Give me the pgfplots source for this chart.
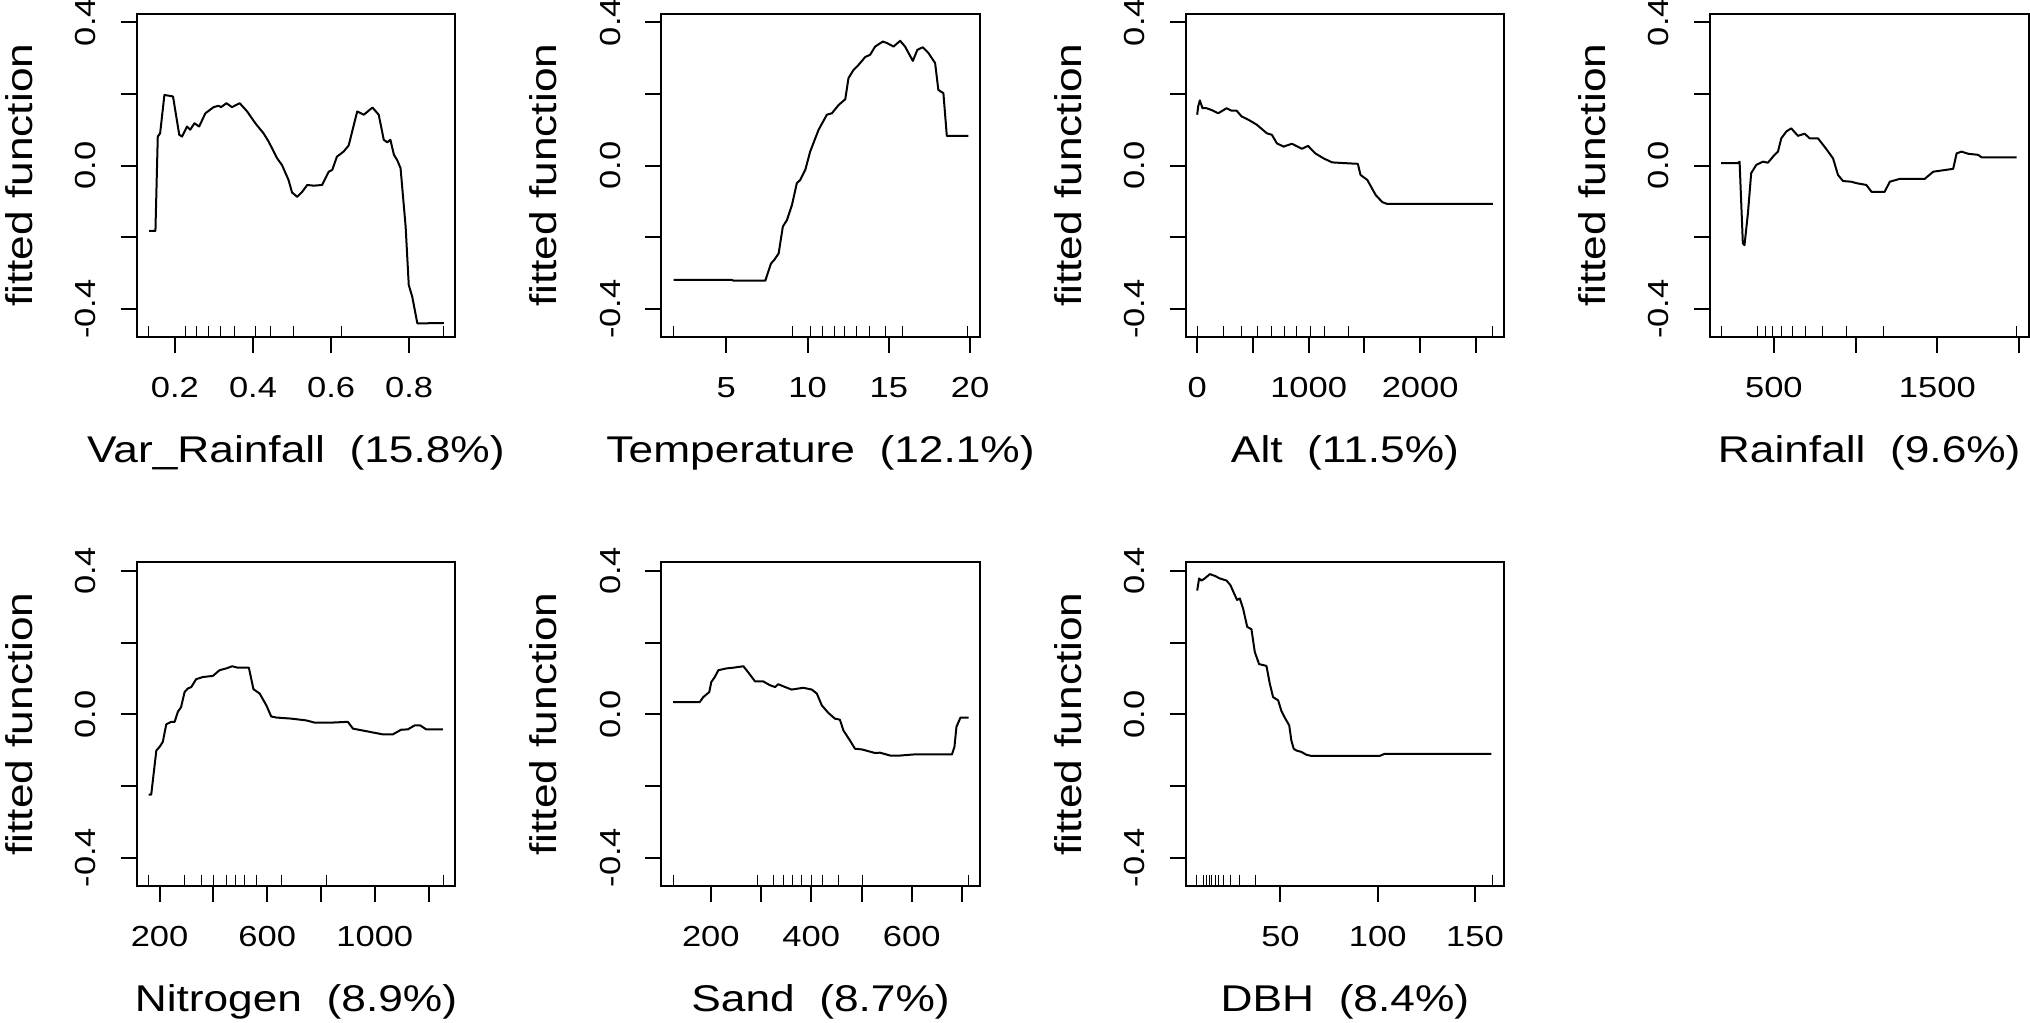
\documentclass[border=0pt]{standalone}
\usepackage{pgfplots}
\pgfplotsset{compat=1.18}
\usepackage{fontspec}
\setmainfont{Liberation Sans}[FakeStretch=1.19]
\pgfplotsset{
 pd/.style={
   scale only axis, width=159.25pt, height=161.7pt,
   anchor=south west,
   ymin=-0.478, ymax=0.424,
   ytick={-0.4,-0.2,0,0.2,0.4}, yticklabels={-0.4,,0.0,,0.4},
   axis line style={line width=1pt},
   tick align=outside, xtick pos=bottom, ytick pos=left,
   major tick length=8pt,
   every tick/.style={black, line width=1pt},
   tick label style={font=\fontsize{14.5}{16}\selectfont},
   xticklabel style={anchor=center, yshift=-17.5pt},
   yticklabel style={rotate=90, anchor=center, yshift=17.5pt},
   label style={font=\fontsize{18.6}{22}\selectfont},
   xlabel style={at={(axis description cs:0.5,0)}, anchor=base, yshift=-63pt},
   ylabel style={at={(axis description cs:0,0.5)}, anchor=base, yshift=52.3pt},
   ylabel={fitted function},
 },
 curve/.style={black, line width=1pt, line join=round, no markers},
 rug/.style={black, only marks, mark=|, mark size=2.75pt, mark options={line width=0.5pt}},
}
\begin{document}
\begin{tikzpicture}
\path[use as bounding box] (0,0) rectangle (1015pt,511.5pt);
% Panel 1
\begin{axis}[pd, at={(68.35pt,343pt)}, xmin=0.102, xmax=0.918,
  xtick={0.2,0.4,0.6,0.8}, xticklabels={0.2,0.4,0.6,0.8},
  xlabel={Var\_Rainfall~~(15.8\%)}]
\addplot[curve] coordinates {
(0.134,-0.182)(0.150,-0.182)(0.156,0.081)(0.162,0.090)(0.173,0.197)(0.195,0.193)
(0.211,0.086)(0.218,0.081)(0.231,0.109)(0.239,0.100)(0.250,0.118)(0.262,0.109)
(0.278,0.146)(0.299,0.163)(0.312,0.167)(0.318,0.163)(0.332,0.174)(0.346,0.163)
(0.366,0.174)(0.385,0.151)(0.406,0.118)(0.427,0.090)(0.440,0.067)(0.462,0.020)
(0.474,0.002)(0.491,-0.040)(0.500,-0.075)(0.513,-0.087)(0.526,-0.073)(0.539,-0.054)
(0.556,-0.056)(0.577,-0.054)(0.594,-0.017)(0.603,-0.012)(0.615,0.025)(0.632,0.039)
(0.645,0.056)(0.667,0.151)(0.684,0.142)(0.706,0.162)(0.722,0.142)(0.735,0.072)
(0.744,0.065)(0.752,0.072)(0.761,0.030)(0.769,0.016)(0.778,-0.007)(0.791,-0.170)
(0.799,-0.333)(0.808,-0.366)(0.821,-0.440)(0.846,-0.440)(0.855,-0.439)(0.889,-0.439)};
\addplot[rug] coordinates {(0.132,-0.4627)(0.2265,-0.4627)(0.254,-0.4627)(0.285,-0.4627)(0.316,-0.4627)(0.353,-0.4627)(0.406,-0.4627)(0.444,-0.4627)(0.503,-0.4627)(0.626,-0.4627)(0.889,-0.4627)};
\end{axis}
% Panel 2
\begin{axis}[pd, at={(330.65pt,343pt)}, xmin=1.0, xmax=20.6,
  xtick={5,10,15,20}, xticklabels={5,10,15,20},
  xlabel={Temperature~~(12.1\%)}]
\addplot[curve] coordinates {
(1.76,-0.319)(5.35,-0.319)(5.45,-0.321)(7.40,-0.321)(7.75,-0.273)(7.95,-0.263)
(8.22,-0.245)(8.48,-0.170)(8.73,-0.152)(9.04,-0.110)(9.34,-0.049)(9.55,-0.040)
(9.86,-0.012)(10.16,0.039)(10.68,0.100)(11.19,0.142)(11.50,0.146)(11.91,0.169)
(12.32,0.185)(12.52,0.244)(12.83,0.267)(13.14,0.281)(13.55,0.303)(13.85,0.309)
(14.16,0.332)(14.63,0.346)(14.88,0.342)(15.29,0.332)(15.70,0.348)(16.00,0.332)
(16.48,0.292)(16.76,0.323)(17.09,0.330)(17.44,0.314)(17.85,0.286)(18.05,0.211)
(18.36,0.202)(18.57,0.083)(19.90,0.083)};
\addplot[rug] coordinates {(1.76,-0.4627)(9.08,-0.4627)(10.20,-0.4627)(10.92,-0.4627)(11.66,-0.4627)(12.27,-0.4627)(12.99,-0.4627)(13.79,-0.4627)(14.77,-0.4627)(15.86,-0.4627)(19.86,-0.4627)};
\end{axis}
% Panel 3
\begin{axis}[pd, at={(592.85pt,343pt)}, xmin=-103, xmax=2754,
  xtick={0,500,1000,1500,2000,2500}, xticklabels={0,,1000,,2000,},
  xlabel={Alt~~(11.5\%)}]
\addplot[curve] coordinates {
(0,0.142)(9,0.165)(24,0.182)(48,0.160)(84,0.160)(129,0.155)(189,0.146)(264,0.160)
(309,0.153)(354,0.153)(399,0.137)(459,0.128)(535,0.114)(625,0.090)(670,0.086)
(715,0.062)(775,0.053)(850,0.061)(940,0.047)(994,0.055)(1060,0.034)(1135,0.020)
(1210,0.009)(1315,0.007)(1441,0.005)(1465,-0.026)(1526,-0.040)(1601,-0.082)
(1661,-0.102)(1706,-0.107)(2652,-0.107)};
\addplot[rug] coordinates {(3,-0.4627)(240,-0.4627)(399,-0.4627)(541,-0.4627)(670,-0.4627)(781,-0.4627)(895,-0.4627)(1015,-0.4627)(1144,-0.4627)(1360,-0.4627)(2652,-0.4627)};
\end{axis}
% Panel 4
\begin{axis}[pd, at={(855pt,343pt)}, xmin=109, xmax=2058,
  xtick={500,1000,1500,2000}, xticklabels={500,,1500,},
  xlabel={Rainfall~~(9.6\%)}]
\addplot[curve] coordinates {
(177,0.007)(279,0.007)(290,0.011)(310,-0.217)(320,-0.222)(341,-0.133)(361,-0.021)
(392,0.002)(433,0.011)(463,0.008)(504,0.030)(525,0.039)(545,0.076)(576,0.095)
(606,0.104)(647,0.083)(688,0.089)(719,0.076)(770,0.076)(821,0.046)(862,0.020)
(892,-0.026)(923,-0.043)(974,-0.045)(1005,-0.049)(1066,-0.054)(1097,-0.073)
(1178,-0.073)(1209,-0.045)(1270,-0.037)(1423,-0.037)(1475,-0.017)(1597,-0.009)
(1618,0.034)(1648,0.039)(1689,0.033)(1750,0.030)(1771,0.023)(1985,0.023)};
\addplot[rug] coordinates {(181,-0.4627)(398,-0.4627)(447,-0.4627)(494,-0.4627)(545,-0.4627)(612,-0.4627)(692,-0.4627)(796,-0.4627)(947,-0.4627)(1172,-0.4627)(1985,-0.4627)};
\end{axis}
% Panel 5
\begin{axis}[pd, at={(68.35pt,68.65pt)}, xmin=115, xmax=1299,
  xtick={200,400,600,800,1000,1200}, xticklabels={200,,600,,1000,},
  xlabel={Nitrogen~~(8.9\%)}]
\addplot[curve] coordinates {
(159,-0.224)(169,-0.224)(188,-0.101)(200,-0.091)(212,-0.077)(225,-0.028)(243,-0.021)
(256,-0.021)(268,0.007)(280,0.020)(293,0.062)(305,0.072)(318,0.076)(336,0.098)
(361,0.104)(398,0.107)(423,0.123)(448,0.128)(470,0.134)(491,0.130)(532,0.130)
(549,0.070)(572,0.058)(597,0.025)(615,-0.006)(634,-0.009)(689,-0.012)(745,-0.017)
(776,-0.023)(844,-0.023)(900,-0.021)(919,-0.040)(968,-0.047)(1030,-0.056)
(1067,-0.056)(1098,-0.043)(1123,-0.042)(1148,-0.031)(1169,-0.031)(1191,-0.042)(1253,-0.042)};
\addplot[rug] coordinates {(159,-0.4627)(293,-0.4627)(357,-0.4627)(402,-0.4627)(448,-0.4627)(482,-0.4627)(516,-0.4627)(559,-0.4627)(652,-0.4627)(820,-0.4627)(1254,-0.4627)};
\end{axis}
% Panel 6
\begin{axis}[pd, at={(330.65pt,68.65pt)}, xmin=101.5, xmax=735.5,
  xtick={200,300,400,500,600,700}, xticklabels={200,,400,,600,},
  xlabel={Sand~~(8.7\%)}]
\addplot[curve] coordinates {
(125,0.034)(178,0.034)(185,0.048)(197,0.062)(201,0.090)(208,0.104)(215,0.123)
(231,0.128)(245,0.130)(265,0.134)(274,0.118)(288,0.092)(304,0.092)(318,0.081)
(328,0.076)(334,0.084)(348,0.076)(361,0.069)(384,0.074)(401,0.069)(411,0.058)
(421,0.025)(434,0.004)(447,-0.012)(457,-0.015)(464,-0.045)(477,-0.073)(487,-0.096)
(501,-0.098)(527,-0.108)(537,-0.107)(557,-0.115)(577,-0.115)(604,-0.112)(680,-0.112)
(685,-0.091)(689,-0.035)(697,-0.009)(713,-0.009)};
\addplot[rug] coordinates {(125,-0.4627)(292,-0.4627)(324,-0.4627)(344,-0.4627)(362,-0.4627)(381,-0.4627)(400,-0.4627)(423,-0.4627)(455,-0.4627)(501,-0.4627)(712,-0.4627)};
\end{axis}
% Panel 7
\begin{axis}[pd, at={(592.85pt,68.65pt)}, xmin=1.3, xmax=165,
  xtick={50,100,150}, xticklabels={50,100,150},
  xlabel={DBH~~(8.4\%)}]
\addplot[curve] coordinates {
(7.2,0.345)(8.2,0.379)(9.4,0.373)(11.1,0.379)(13.7,0.391)(16.3,0.386)(18.8,0.379)
(22.3,0.373)(24.3,0.360)(26.0,0.339)(27.7,0.319)(29.1,0.323)(30.8,0.295)(32.9,0.244)
(35.1,0.237)(36.8,0.174)(39.0,0.140)(42.8,0.135)(44.5,0.086)(46.2,0.048)(48.8,0.039)
(50.5,0.009)(52.2,-0.009)(54.5,-0.031)(55.6,-0.073)(56.8,-0.096)(58.2,-0.101)
(60.8,-0.105)(63.4,-0.113)(65.9,-0.116)(101.0,-0.116)(103.6,-0.110)(158.4,-0.110)};
\addplot[rug] coordinates {(7.1,-0.4627)(10.2,-0.4627)(12.0,-0.4627)(13.7,-0.4627)(14.7,-0.4627)(16.6,-0.4627)(18.4,-0.4627)(20.5,-0.4627)(24.3,-0.4627)(29.1,-0.4627)(37.0,-0.4627)(158.9,-0.4627)};
\end{axis}
\end{tikzpicture}
\end{document}
